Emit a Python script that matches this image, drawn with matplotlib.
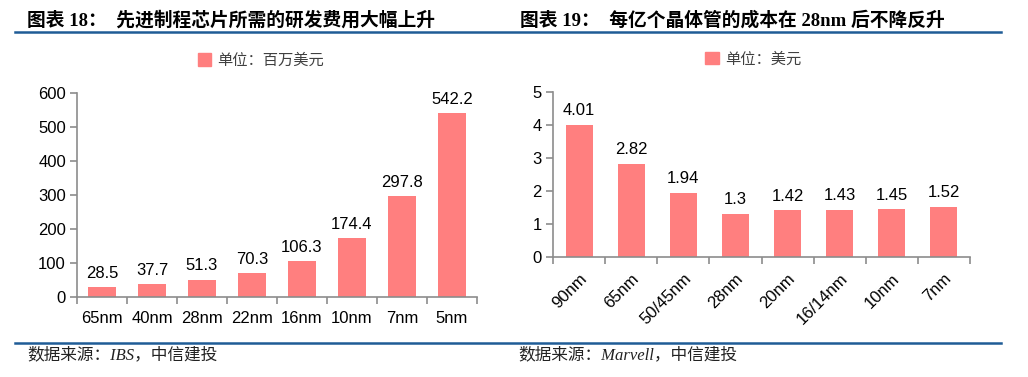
import numpy as np
import matplotlib.pyplot as plt
from matplotlib.lines import Line2D
from matplotlib.patches import Patch

plt.rcParams['font.family'] = ['Liberation Sans', 'Noto Sans CJK SC']

# chart 18: R&D cost per process node (million USD)
nodes_rd = ['65nm', '40nm', '28nm', '22nm', '16nm', '10nm', '7nm', '5nm']
cost_rd = [28.5, 37.7, 51.3, 70.3, 106.3, 174.4, 297.8, 542.2]
rd_labels = ['28.5', '37.7', '51.3', '70.3', '106.3', '174.4', '297.8', '542.2']

# chart 19: cost per 100M transistors (USD)
nodes_tr = ['90nm', '65nm', '50/45nm', '28nm', '20nm', '16/14nm', '10nm', '7nm']
cost_tr = [4.01, 2.82, 1.94, 1.3, 1.42, 1.43, 1.45, 1.52]
tr_labels = ['4.01', '2.82', '1.94', '1.3', '1.42', '1.43', '1.45', '1.52']

BAR = '#FF7F7F'
SPINE = '#8C8C8C'
RULE = '#1F5C96'
SERIF = ['Liberation Serif', 'Noto Sans CJK SC']

W, H = 1028, 377
fig = plt.figure(figsize=(W / 100, H / 100), dpi=100)


def px(x0, y0, x1, y1):
    # pixel box -> figure fraction rect
    return [x0 / W, 1 - y1 / H, (x1 - x0) / W, (y1 - y0) / H]


def style_axes(ax, n):
    for s in ['top', 'right']:
        ax.spines[s].set_visible(False)
    for s in ['left', 'bottom']:
        ax.spines[s].set_color(SPINE)
        ax.spines[s].set_linewidth(1.2)
    ax.set_xlim(-0.5, n - 0.5)
    ax.set_xticks(np.arange(n + 1) - 0.5, minor=False)
    ax.set_xticklabels([])
    ax.tick_params(axis='x', which='major', length=5, color=SPINE, width=1.2)
    ax.tick_params(axis='y', length=5, color=SPINE, width=1.2, labelsize=12, pad=3)


# left chart
ax1 = fig.add_axes(px(77, 93, 477, 297))
x1 = np.arange(len(nodes_rd))
ax1.bar(x1, cost_rd, width=0.55, color=BAR)
style_axes(ax1, len(nodes_rd))
ax1.set_ylim(0, 600)
ax1.set_yticks(np.arange(0, 601, 100))
ax1.set_xticks(x1, minor=True)
ax1.set_xticklabels(nodes_rd, minor=True, fontsize=12)
ax1.tick_params(axis='x', which='minor', length=0, pad=10)
for xi, v, t in zip(x1, cost_rd, rd_labels):
    ax1.text(xi, v + 18, t, ha='center', va='bottom', fontsize=12)
ax1.legend(handles=[Patch(color=BAR)], labels=['单位：百万美元'],
           loc='center', bbox_to_anchor=(0.46, 1.16), frameon=False,
           fontsize=11, handlelength=0.9, handleheight=0.9,
           handletextpad=0.4, labelcolor='#404040')

# right chart
ax2 = fig.add_axes(px(553, 92, 970, 257))
x2 = np.arange(len(nodes_tr))
ax2.bar(x2, cost_tr, width=0.52, color=BAR)
style_axes(ax2, len(nodes_tr))
ax2.set_ylim(0, 5)
ax2.set_yticks(np.arange(0, 6, 1))
ax2.set_xticks(x2, minor=True)
ax2.set_xticklabels(nodes_tr, minor=True, fontsize=12, rotation=45,
                    ha='right', rotation_mode='anchor')
ax2.tick_params(axis='x', which='minor', length=0, pad=10)
for xi, v, t in zip(x2, cost_tr, tr_labels):
    ax2.text(xi, v + 0.2, t, ha='center', va='bottom', fontsize=12)
ax2.legend(handles=[Patch(color=BAR)], labels=['单位：美元'],
           loc='center', bbox_to_anchor=(0.48, 1.2), frameon=False,
           fontsize=11, handlelength=0.9, handleheight=0.9,
           handletextpad=0.4, labelcolor='#404040')

# titles, rules and sources
fig.text(27 / W, 1 - 20 / H, '图表 18：  先进制程芯片所需的研发费用大幅上升',
         family=SERIF, fontsize=13.5, fontweight='bold', va='center')
fig.text(520 / W, 1 - 20 / H, '图表 19：  每亿个晶体管的成本在 28nm 后不降反升',
         family=SERIF, fontsize=13.5, fontweight='bold', va='center')
fig.add_artist(Line2D([15 / W, 1001 / W], [1 - 32 / H] * 2, color=RULE, lw=1.8))
fig.add_artist(Line2D([15 / W, 1001 / W], [1 - 343 / H] * 2, color=RULE, lw=1.8))
fig.text(27 / W, 1 - 355 / H, '数据来源：IBS，中信建投', family=SERIF,
         fontsize=12, style='italic', va='center', color='#222222')
fig.text(518 / W, 1 - 355 / H, '数据来源：Marvell，中信建投', family=SERIF,
         fontsize=12, style='italic', va='center', color='#222222')

fig.savefig('out.png', dpi=100)
